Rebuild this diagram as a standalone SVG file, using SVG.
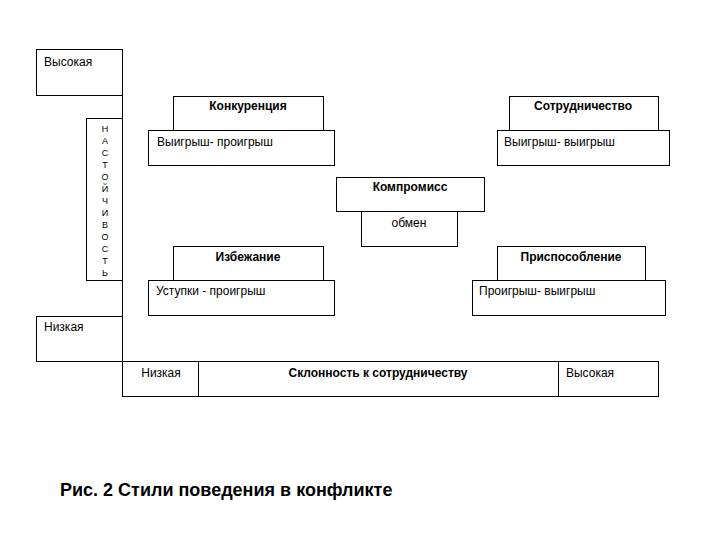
<svg xmlns="http://www.w3.org/2000/svg" width="720" height="540" viewBox="0 0 720 540">
<style>
rect{fill:#fff;stroke:#000;stroke-width:1}
line{stroke:#000;stroke-width:1}
text{font-family:"Liberation Sans",Arial,sans-serif;font-size:12px;fill:#000}
.b{font-weight:bold}
.m{text-anchor:middle}
.v{font-size:9px;text-anchor:middle}
.cap{font-size:18px;font-weight:bold}
</style>
<rect x="0" y="0" width="720" height="540" style="fill:#fff;stroke:none"/>
<g id="axis-y">
<rect x="36.5" y="49.5" width="86" height="46"/>
<text x="44" y="66">Высокая</text>
<rect x="86.5" y="118.5" width="36" height="162"/>
<g>
<text class="v" x="105" y="132">Н</text>
<text class="v" x="105" y="144">А</text>
<text class="v" x="105" y="156">С</text>
<text class="v" x="105" y="168">Т</text>
<text class="v" x="105" y="180">О</text>
<text class="v" x="105" y="192">Й</text>
<text class="v" x="105" y="204">Ч</text>
<text class="v" x="105" y="216">И</text>
<text class="v" x="105" y="228">В</text>
<text class="v" x="105" y="240">О</text>
<text class="v" x="105" y="252">С</text>
<text class="v" x="105" y="264">Т</text>
<text class="v" x="105" y="276">Ь</text>
</g>
<rect x="36.5" y="316.5" width="86" height="45"/>
<text x="44" y="331">Низкая</text>
</g>
<g id="connectors">
<line x1="122.5" y1="49" x2="122.5" y2="397"/>
</g>
<g id="konkurencia">
<rect x="173.5" y="96.5" width="150" height="34"/>
<text class="b m" x="248" y="110">Конкуренция</text>
<rect x="148.5" y="130.5" width="186" height="35"/>
<text x="157" y="146">Выигрыш- проигрыш</text>
</g>
<g id="sotrudnichestvo">
<rect x="509.5" y="96.5" width="149" height="34"/>
<text class="b m" x="583" y="110">Сотрудничество</text>
<rect x="497.5" y="130.5" width="172" height="35"/>
<text x="504" y="146">Выигрыш- выигрыш</text>
</g>
<g id="kompromiss">
<rect x="336.5" y="177.5" width="148" height="34"/>
<text class="b m" x="410" y="191">Компромисс</text>
<rect x="361.5" y="211.5" width="96" height="35"/>
<text class="m" x="409" y="227">обмен</text>
</g>
<g id="izbezhanie">
<rect x="173.5" y="246.5" width="150" height="34"/>
<text class="b m" x="248" y="261">Избежание</text>
<rect x="148.5" y="280.5" width="186" height="35"/>
<text x="156" y="295">Уступки - проигрыш</text>
</g>
<g id="prisposoblenie">
<rect x="497.5" y="246.5" width="148" height="34"/>
<text class="b m" x="571" y="261">Приспособление</text>
<rect x="472.5" y="280.5" width="193" height="35"/>
<text x="479" y="295">Проигрыш- выигрыш</text>
</g>
<g id="axis-x">
<rect x="122.5" y="361.5" width="536" height="35"/>
<line x1="198.5" y1="361" x2="198.5" y2="397"/>
<line x1="558.5" y1="361" x2="558.5" y2="397"/>
<text class="m" x="161" y="377">Низкая</text>
<text class="b m" x="378" y="377">Склонность к сотрудничеству</text>
<text class="m" x="590" y="377">Высокая</text>
</g>
<text class="cap" x="60" y="496">Рис. 2 Стили поведения в конфликте</text>
</svg>
